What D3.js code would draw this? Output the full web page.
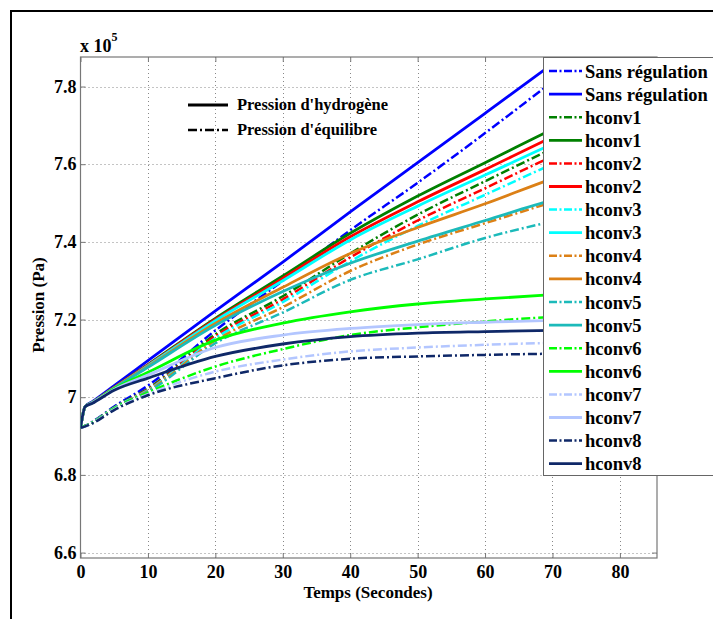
<!DOCTYPE html>
<html><head><meta charset="utf-8">
<script src="https://cdn.jsdelivr.net/npm/d3@7"></script>
<style>
html,body{margin:0;padding:0;background:#fff;}
svg text{font-family:"Liberation Serif","Times New Roman",serif;font-weight:bold;}
</style></head>
<body><svg id="c" width="713" height="619"></svg>
<script>
// ---- data (pressure in units of 10^5 Pa) ----
const times = [0, 0.7, 1.7, 5, 10, 20, 30, 40, 50, 60, 70, 80];
const seriesLabels = ["Sans régulation","Sans régulation","hconv1","hconv1","hconv2","hconv2","hconv3","hconv3","hconv4","hconv4","hconv5","hconv5","hconv6","hconv6","hconv7","hconv7","hconv8","hconv8"];
const sansDash  = [6.921, 6.926, 6.936, 6.976, 7.030, 7.172, 7.300, 7.430, 7.552, 7.680, 7.812, 7.940];
const sansSolid = [6.921, 6.976, 6.988, 7.030, 7.094, 7.222, 7.348, 7.477, 7.604, 7.731, 7.858, 7.985];
const h1Dash  = [6.921, 6.926, 6.935, 6.974, 7.022, 7.162, 7.260, 7.370, 7.470, 7.556, 7.640, 7.720];
const h1Solid = [6.921, 6.976, 6.986, 7.025, 7.084, 7.203, 7.312, 7.422, 7.518, 7.604, 7.690, 7.772];
const h2Dash  = [6.921, 6.926, 6.935, 6.973, 7.020, 7.157, 7.252, 7.360, 7.455, 7.538, 7.620, 7.697];
const h2Solid = [6.921, 6.976, 6.986, 7.025, 7.083, 7.200, 7.306, 7.413, 7.503, 7.586, 7.670, 7.750];
const h3Dash  = [6.921, 6.926, 6.935, 6.973, 7.018, 7.152, 7.245, 7.350, 7.441, 7.521, 7.600, 7.674];
const h3Solid = [6.921, 6.976, 6.986, 7.024, 7.081, 7.197, 7.300, 7.405, 7.492, 7.572, 7.652, 7.728];
const h4Dash  = [6.921, 6.926, 6.934, 6.972, 7.016, 7.146, 7.232, 7.325, 7.393, 7.448, 7.502, 7.552];
const h4Solid = [6.921, 6.976, 6.986, 7.024, 7.079, 7.190, 7.283, 7.370, 7.437, 7.498, 7.563, 7.620];
const h5Dash  = [6.921, 6.926, 6.934, 6.972, 7.014, 7.139, 7.218, 7.302, 7.355, 7.410, 7.453, 7.492];
const h5Solid = [6.921, 6.976, 6.986, 7.023, 7.077, 7.185, 7.272, 7.345, 7.402, 7.455, 7.508, 7.555];
const h6Dash  = [6.921, 6.926, 6.934, 6.971, 7.012, 7.079, 7.124, 7.160, 7.180, 7.195, 7.207, 7.215];
const h6Solid = [6.921, 6.976, 6.985, 7.022, 7.064, 7.147, 7.191, 7.220, 7.240, 7.253, 7.264, 7.272];
const h7Dash  = [6.921, 6.925, 6.933, 6.969, 7.008, 7.066, 7.097, 7.118, 7.128, 7.135, 7.140, 7.143];
const h7Solid = [6.921, 6.976, 6.985, 7.020, 7.057, 7.128, 7.160, 7.177, 7.187, 7.193, 7.198, 7.200];
const h8Dash  = [6.921, 6.925, 6.932, 6.967, 7.005, 7.049, 7.082, 7.099, 7.105, 7.109, 7.112, 7.113];
const h8Solid = [6.921, 6.976, 6.984, 7.018, 7.049, 7.105, 7.137, 7.156, 7.165, 7.169, 7.172, 7.173];
const seriesValues = [sansDash, sansSolid, h1Dash, h1Solid, h2Dash, h2Solid, h3Dash, h3Solid, h4Dash, h4Solid, h5Dash, h5Solid, h6Dash, h6Solid, h7Dash, h7Solid, h8Dash, h8Solid];
const seriesDashed = [true,false,true,false,true,false,true,false,true,false,true,false,true,false,true,false,true,false];
const xTicks = [0, 10, 20, 30, 40, 50, 60, 70, 80];
const yTicks = [6.6, 6.8, 7.0, 7.2, 7.4, 7.6, 7.8];
const yTickLabels = ["6.6", "6.8", "7", "7.2", "7.4", "7.6", "7.8"];

// ---- styles ----
const pairColors = ["#0000ff", "#008000", "#ff0000", "#00ffff", "#dc8016", "#1cbaba", "#00ff00", "#b3c6ff", "#0f2868"];
const dashPattern = "9,3,2,3";
const serif = "'Liberation Serif','Times New Roman',serif";

const svg = d3.select("#c");
const L = 80.5, R = 657, T = 57, B = 558;
const x = d3.scaleLinear().domain([0, 85.5]).range([L, R]);
const y = d3.scaleLinear().domain([6.586, 7.876]).range([B, T]);

// outer frame
svg.append("path").attr("d", "M11,619V11H713").attr("fill", "none").attr("stroke", "#000").attr("stroke-width", 2);

// grid
const grid = svg.append("g").attr("stroke", "#888").attr("stroke-width", 1).attr("stroke-dasharray", "1,3");
grid.selectAll(".gx").data(xTicks.filter(d => d > 0)).join("line")
  .attr("x1", d => Math.round(x(d)) + 0.5).attr("x2", d => Math.round(x(d)) + 0.5).attr("y1", T).attr("y2", B);
grid.selectAll(".gy").data(yTicks).join("line")
  .attr("y1", d => Math.round(y(d)) + 0.5).attr("y2", d => Math.round(y(d)) + 0.5).attr("x1", L).attr("x2", R);

// plot box
svg.append("rect").attr("x", L).attr("y", T).attr("width", R - L).attr("height", B - T)
  .attr("fill", "none").attr("stroke", "#777").attr("stroke-width", 1.2);

// axes with inward ticks
const xAxB = d3.axisBottom(x).tickValues(xTicks).tickSize(-5).tickPadding(7).tickFormat(d3.format("d"));
const xAxT = d3.axisTop(x).tickValues(xTicks).tickSize(-5).tickFormat("");
const yAxL = d3.axisLeft(y).tickValues(yTicks).tickSize(-5).tickPadding(4).tickFormat((d, i) => yTickLabels[i]);
const yAxR = d3.axisRight(y).tickValues(yTicks).tickSize(-5).tickFormat("");
function styleAxis(g) {
  g.attr("font-family", serif);
  g.select(".domain").remove();
  g.selectAll(".tick line").attr("stroke", "#777");
  g.selectAll("text").attr("fill", "#000").style("font-size", "18px").style("font-family", serif).style("font-weight", "bold");
}
svg.append("g").attr("transform", `translate(0,${B})`).call(xAxB).call(styleAxis);
svg.append("g").attr("transform", `translate(0,${T})`).call(xAxT).call(styleAxis);
svg.append("g").attr("transform", `translate(${L},0)`).call(yAxL).call(styleAxis);
svg.append("g").attr("transform", `translate(${R},0)`).call(yAxR).call(styleAxis);

// clip
svg.append("clipPath").attr("id", "clip").append("rect").attr("x", L).attr("y", T).attr("width", R - L).attr("height", B - T);

const line = d3.line().x(d => x(d[0])).y(d => y(d[1])).curve(d3.curveMonotoneX);
const plotG = svg.append("g").attr("clip-path", "url(#clip)");
seriesValues.forEach((vals, i) => {
  const pts = times.map((t, j) => [t, vals[j]]);
  plotG.append("path").attr("d", line(pts)).attr("fill", "none")
    .attr("stroke", pairColors[Math.floor(i / 2)])
    .attr("stroke-width", seriesDashed[i] ? 2.5 : 2.8)
    .attr("stroke-dasharray", seriesDashed[i] ? dashPattern : null)
    .attr("stroke-linejoin", "round");
});

// inner legend (line type)
const inner = [["Pression d'hydrogène", false, 105], ["Pression d'équilibre", true, 130]];
inner.forEach(([lab, dashed, cy]) => {
  svg.append("line").attr("x1", 188).attr("x2", 228).attr("y1", cy).attr("y2", cy)
    .attr("stroke", "#000").attr("stroke-width", dashed ? 2.5 : 3.2).attr("stroke-dasharray", dashed ? dashPattern : null);
  svg.append("text").attr("x", 237).attr("y", cy + 5).style("font-size", "16.5px").text(lab);
});

// main legend
const lg = svg.append("g");
lg.append("rect").attr("x", 543.5).attr("y", 57.5).attr("width", 200).attr("height", 418)
  .attr("fill", "#fff").attr("stroke", "#666").attr("stroke-width", 1);
seriesLabels.forEach((lab, i) => {
  const cy = 71 + i * 23.1;
  lg.append("line").attr("x1", 549).attr("x2", 582).attr("y1", cy).attr("y2", cy)
    .attr("stroke", pairColors[Math.floor(i / 2)]).attr("stroke-width", seriesDashed[i] ? 2.5 : 2.8)
    .attr("stroke-dasharray", seriesDashed[i] ? "8,2.5,2,2.5" : null);
  lg.append("text").attr("x", 585).attr("y", cy + 6.5).style("font-size", "18.5px").text(lab);
});

// axis labels
svg.append("text").attr("x", 368).attr("y", 598).attr("text-anchor", "middle").style("font-size", "17px").text("Temps (Secondes)");
svg.append("text").attr("transform", "translate(44,305) rotate(-90)").attr("text-anchor", "middle").style("font-size", "17px").text("Pression (Pa)");
// exponent
const ex = svg.append("text").attr("x", 80).attr("y", 52).style("font-size", "18px");
ex.append("tspan").text("x 10");
ex.append("tspan").attr("dy", -11).style("font-size", "12px").text("5");
</script></body></html>
